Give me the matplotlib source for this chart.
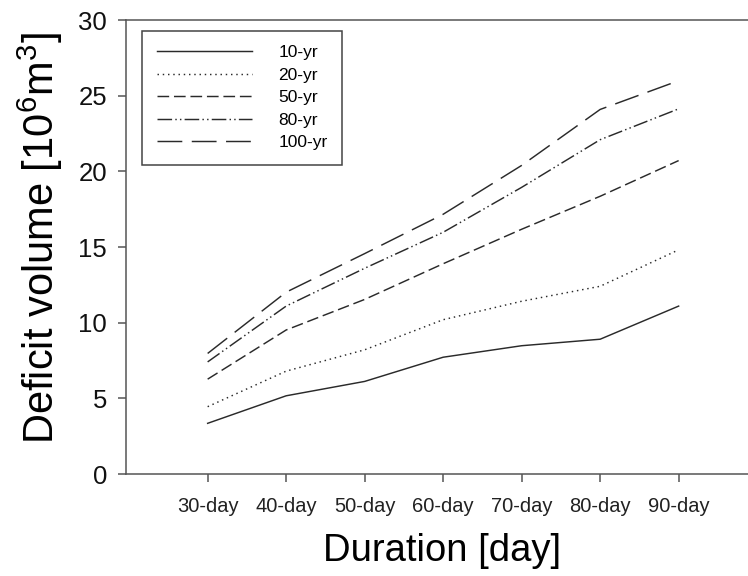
import matplotlib
matplotlib.use("Agg")
import matplotlib.pyplot as plt

plt.rcParams['font.family'] = ['Liberation Sans', 'DejaVu Sans']
plt.rcParams['mathtext.fontset'] = 'custom'
plt.rcParams['mathtext.rm'] = 'Liberation Sans'
plt.rcParams['mathtext.it'] = 'Liberation Sans'

durations = ["30-day", "40-day", "50-day", "60-day", "70-day", "80-day", "90-day"]
labels = ["10-yr", "20-yr", "50-yr", "80-yr", "100-yr"]

yr10 = [3.35, 5.17, 6.12, 7.72, 8.48, 8.91, 11.1]
yr20 = [4.45, 6.8, 8.21, 10.2, 11.42, 12.41, 14.82]
yr50 = [6.27, 9.52, 11.54, 13.9, 16.18, 18.36, 20.72]
yr80 = [7.41, 11.1, 13.6, 15.98, 18.95, 22.1, 24.14]
yr100 = [7.97, 12.02, 14.57, 17.17, 20.4, 24.1, 26.0]

series = [yr10, yr20, yr50, yr80, yr100]
styles = ['-', (0, (1, 2.6)), (0, (8, 3.3)), (0, (10, 2.2, 1, 2.2, 1, 2.2)), (0, (17, 6.5))]

fig = plt.figure(figsize=(7.48, 5.76), dpi=100)
W, H = 748, 576
step = 78.5
left_px = 126.4
ax = fig.add_axes([left_px / W, 1 - 474 / H, 8.035 * step / W, (474 - 20.2) / H])

x = list(range(1, len(durations) + 1))
for vals, ls, lab in zip(series, styles, labels):
    ax.plot(x, vals, linestyle=ls, color='#2a2a2a', linewidth=1.05, label=lab)

ax.set_xlim(-0.035, 8)
ax.set_ylim(0, 30)
ax.set_xticks(x)
ax.set_xticklabels(durations, fontsize=14.5, color='#222222')
ax.set_yticks(range(0, 31, 5))
ax.tick_params(axis='y', labelsize=18.5, length=6, width=1.1, pad=8, colors='#555555', labelcolor='#111111')
ax.tick_params(axis='x', length=5.5, width=1.1, pad=11, colors='#555555', labelcolor='#222222')

for s in ['left', 'bottom', 'top']:
    ax.spines[s].set_color('#555555')
    ax.spines[s].set_linewidth(1.1)
ax.spines['right'].set_visible(False)

ax.set_xlabel("Duration [day]", fontsize=27.5)
ax.xaxis.set_label_coords(0.501, -0.13)
ax.set_ylabel("Deficit volume [10$^{6}$m$^{3}$]", fontsize=30)
ax.yaxis.set_label_coords(-0.098, 0.519)

leg = ax.legend(loc='upper left', bbox_to_anchor=(142 / W, 1 - 30.5 / H),
                bbox_transform=fig.transFigure, borderaxespad=0,
                fontsize=12.5, handlelength=5.5, handletextpad=1.5,
                labelspacing=0.42, borderpad=0.85, fancybox=False, framealpha=1)
leg.get_frame().set_edgecolor('#444444')
leg.get_frame().set_linewidth(1.1)

fig.savefig("out.png", dpi=100)
